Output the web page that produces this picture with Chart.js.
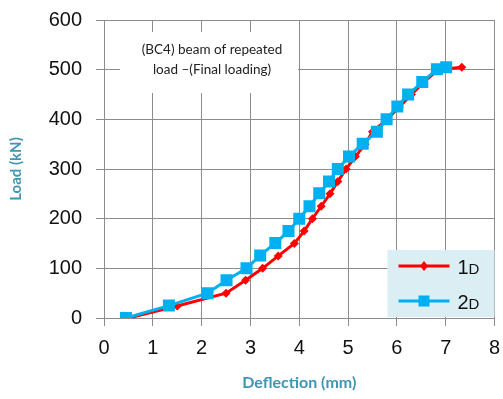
<!DOCTYPE html>
<html>
<head>
<meta charset="utf-8">
<script src="https://cdn.jsdelivr.net/npm/chart.js@4"></script>
<style>
  html, body { margin: 0; padding: 0; background: #fff; }
  #wrap { width: 503px; height: 399px; }
</style>
</head>
<body>
<div id="wrap"><canvas id="chart" width="503" height="399"></canvas></div>
<script>
// deflection (mm) / load (kN)
const defl1D = [0.5, 1.5, 2.5, 2.9, 3.25, 3.57, 3.9, 4.1, 4.27, 4.45, 4.63, 4.79, 4.96, 5.15, 5.35, 5.5, 5.8, 6.05, 6.3, 6.55, 6.85, 7.33]
const load1D = [0, 24, 50, 76, 100, 125, 150, 175, 200, 225, 250, 275, 300, 325, 350, 375, 400, 425, 450, 475, 500, 505]

const defl2D = [0.45, 1.33, 2.12, 2.51, 2.92, 3.2, 3.51, 3.78, 4.0, 4.21, 4.41, 4.61, 4.79, 5.02, 5.3, 5.59, 5.79, 6.01, 6.23, 6.52, 6.82, 7.01]
const load2D = [0, 25, 50, 76, 100, 126, 151, 175, 200, 225, 251, 275, 300, 325, 351, 375, 400, 426, 450, 475, 501, 505]

const xTicks = [0, 1, 2, 3, 4, 5, 6, 7, 8]
const yTicks = [0, 100, 200, 300, 400, 500, 600]

const seriesNames = ['1D', '2D']
const noteLines = ['(BC4) beam of repeated', 'load \u2013(Final loading)']

const toPoints = (xs, ys) => xs.map((x, i) => ({ x: x, y: ys[i] }))

const titleColor = '#3f95b5'
const gridColor = '#8c8c8c'

// white note box in the upper left, drawn over the grid
const notePlugin = {
    id: 'noteBox',
    beforeDatasetsDraw: (chart) => {
        const {ctx, chartArea} = chart
        const left = chartArea.left + 16
        const top = chartArea.top + 12
        ctx.save()
        ctx.fillStyle = '#fff'
        ctx.fillRect(left, top, 178, 61)
        ctx.fillStyle = '#222'
        ctx.font = '13.5px Lato, "Liberation Sans", sans-serif'
        ctx.textAlign = 'center'
        ctx.textBaseline = 'middle'
        noteLines.forEach((line, i) => {
            ctx.fillText(line, left + 92, top + 18 + i * 20)
        })
        ctx.restore()
    }
}

// legend in the lower right corner, "1D" with a small-caps D
const legendPlugin = {
    id: 'cornerLegend',
    afterDatasetsDraw: (chart) => {
        const {ctx, chartArea} = chart
        const boxW = 107, boxH = 67
        const left = chartArea.right - boxW
        const top = chartArea.bottom - boxH - 1
        ctx.save()
        ctx.fillStyle = '#dbeef4'
        ctx.fillRect(left, top, boxW, boxH)
        chart.data.datasets.forEach((ds, i) => {
            const y = top + 16 + i * 35
            const x0 = left + 11, x1 = left + 62
            ctx.strokeStyle = ds.borderColor
            ctx.lineWidth = 3
            ctx.beginPath()
            ctx.moveTo(x0, y)
            ctx.lineTo(x1, y)
            ctx.stroke()
            ctx.fillStyle = ds.backgroundColor
            ctx.beginPath()
            const cx = (x0 + x1) / 2
            if (ds.pointStyle === 'rect') {
                ctx.rect(cx - 5.5, y - 5.5, 11, 11)
            } else {
                ctx.moveTo(cx, y - 5); ctx.lineTo(cx + 4, y); ctx.lineTo(cx, y + 5); ctx.lineTo(cx - 4, y)
                ctx.closePath()
            }
            ctx.fill()
            const name = ds.label
            ctx.fillStyle = '#111'
            ctx.textBaseline = 'alphabetic'
            ctx.textAlign = 'left'
            ctx.font = '20px "Liberation Sans", Arial, sans-serif'
            ctx.fillText(name[0], left + 70, y + 8)
            const w = ctx.measureText(name[0]).width
            ctx.font = '15px "Liberation Sans", Arial, sans-serif'
            ctx.fillText(name.slice(1), left + 70 + w, y + 8)
        })
        ctx.restore()
    }
}

const ctx = document.getElementById('chart')

new Chart(ctx, {
    type: 'scatter',
    data: {
        datasets: [
            {
                label: seriesNames[0],
                data: toPoints(defl1D, load1D),
                showLine: true,
                borderColor: '#ff0000',
                backgroundColor: '#ff0000',
                borderWidth: 3,
                pointStyle: 'rectRot',
                pointRadius: 4.5,
                pointBorderWidth: 0,
                order: 1
            },
            {
                label: seriesNames[1],
                data: toPoints(defl2D, load2D),
                showLine: true,
                borderColor: '#00b0f0',
                backgroundColor: '#00b0f0',
                borderWidth: 3,
                pointStyle: 'rect',
                pointRadius: 8.5,
                pointBorderWidth: 0,
                order: 0
            }
        ]
    },
    options: {
        responsive: false,
        animation: false,
        layout: {
            padding: { top: 20, right: 3, left: 0, bottom: 0 }
        },
        plugins: {
            legend: { display: false },
            tooltip: { enabled: false }
        },
        scales: {
            x: {
                type: 'linear',
                min: 0,
                max: 8,
                afterBuildTicks: (scale) => { scale.ticks = xTicks.map(v => ({ value: v })) },
                afterFit: (scale) => {
                    scale.height = 81
                    scale.paddingLeft = 0
                    scale.paddingRight = 0
                },
                grid: { color: gridColor, tickLength: 8, lineWidth: 1 },
                border: { color: gridColor },
                ticks: {
                    color: '#111',
                    padding: 10,
                    font: { size: 20, family: '"Liberation Sans", Arial, sans-serif' }
                },
                title: {
                    display: true,
                    text: 'Deflection (mm)',
                    color: titleColor,
                    padding: { top: 0, bottom: 7 },
                    font: { size: 16, weight: 'bold', family: 'Lato, "Liberation Sans", sans-serif' }
                }
            },
            y: {
                type: 'linear',
                min: 0,
                max: 600,
                afterBuildTicks: (scale) => { scale.ticks = yTicks.map(v => ({ value: v })) },
                afterFit: (scale) => {
                    scale.width = 104
                    scale.paddingTop = 0
                    scale.paddingBottom = 0
                },
                grid: { color: gridColor, tickLength: 8, lineWidth: 1 },
                border: { color: gridColor },
                ticks: {
                    color: '#111',
                    padding: 14,
                    font: { size: 20, family: '"Liberation Sans", Arial, sans-serif' }
                },
                title: {
                    display: true,
                    text: 'Load (kN)',
                    color: titleColor,
                    padding: { top: 7, bottom: 0 },
                    font: { size: 15, weight: 'bold', family: 'Lato, "Liberation Sans", sans-serif' }
                }
            }
        }
    },
    plugins: [notePlugin, legendPlugin]
});
</script>
</body>
</html>
